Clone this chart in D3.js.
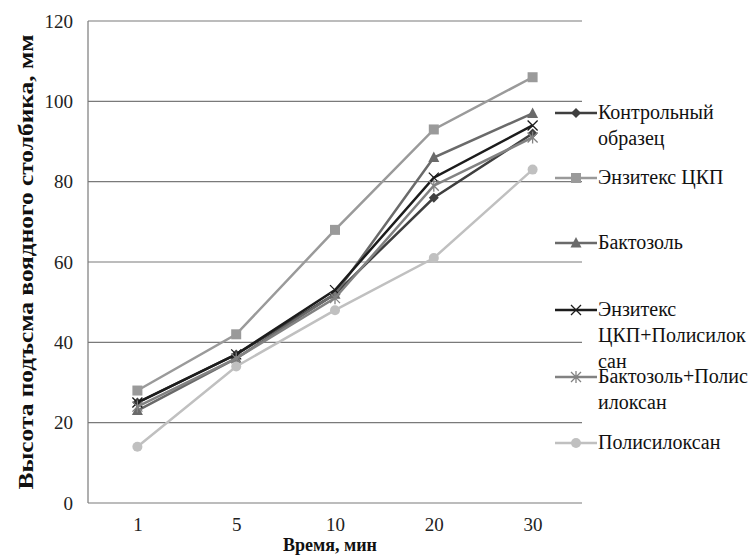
<!DOCTYPE html>
<html><head><meta charset="utf-8">
<script src="https://cdn.jsdelivr.net/npm/d3@7"></script>
<style>body{margin:0;background:#fff}svg{display:block}svg text{font-family:"Liberation Serif","Times New Roman",Tinos,"DejaVu Serif","Noto Serif",FreeSerif,Times,serif !important}</style>
</head><body>
<script>
const categories = ["1","5","10","20","30"];
const seriesNames = ["Контрольный образец","Энзитекс ЦКП","Бактозоль","Энзитекс ЦКП+Полисилоксан","Бактозоль+Полисилоксан","Полисилоксан"];
const control = [25,37,52,76,92];
const enzitex = [28,42,68,93,106];
const baktozol = [23,36,52,86,97];
const enzitexPoly = [25,37,53,81,94];
const baktozolPoly = [24,36,51,79,91];
const polysiloxane = [14,34,48,61,83];
const yTicks = [0,20,40,60,80,100,120];
const legendLines = [["Контрольный","образец"],["Энзитекс ЦКП"],["Бактозоль"],["Энзитекс","ЦКП+Полисилок","сан"],["Бактозоль+Полис","илоксан"],["Полисилоксан"]];
const yTitle = "Высота подъсма воядного столбика, мм";
const xTitle = "Время, мин";

const seriesValues = [control, enzitex, baktozol, enzitexPoly, baktozolPoly, polysiloxane];
const colors = ["#3f3f3f","#9a9a9a","#6a6a6a","#1c1c1c","#828282","#c0c0c0"];
const markers = ["diamond","square","triangle","x","star","circle"];

const W=749,H=555;
const svg=d3.select("body").append("svg").attr("width",W).attr("height",H);
const L=88,R=582,T=21,B=503;
const x=d3.scalePoint().domain(categories).range([L,R]).padding(0.5);
const y=d3.scaleLinear().domain([0,120]).range([B,T]);

svg.append("g").selectAll("line").data(yTicks.filter(d=>d>0)).join("line")
 .attr("x1",L).attr("x2",R).attr("y1",d=>y(d)).attr("y2",d=>y(d))
 .attr("stroke","#7a7a7a").attr("stroke-width",1.2);
svg.append("line").attr("x1",L).attr("x2",L).attr("y1",T).attr("y2",B).attr("stroke","#7a7a7a").attr("stroke-width",1.2);
svg.append("line").attr("x1",L).attr("x2",R).attr("y1",B).attr("y2",B).attr("stroke","#7a7a7a").attr("stroke-width",1.2);

const yAxis=d3.axisLeft(y).tickValues(yTicks).tickSize(0).tickPadding(15);
const gy=svg.append("g").attr("transform",`translate(${L},0)`).call(yAxis);
gy.select(".domain").remove();
gy.selectAll("text").attr("font-size",19).attr("fill","#222");
const xAxis=d3.axisBottom(x).tickSize(0).tickPadding(15);
const gx=svg.append("g").attr("transform",`translate(0,${B})`).call(xAxis);
gx.select(".domain").remove();
gx.selectAll("text").attr("font-size",19).attr("fill","#222");

svg.append("text").attr("transform",`translate(33,262) rotate(-90)`).attr("text-anchor","middle")
 .attr("font-size",22).attr("font-weight","bold").attr("fill","#111")
 .attr("textLength",455).attr("lengthAdjust","spacingAndGlyphs").text(yTitle);
svg.append("text").attr("x",330).attr("y",551).attr("text-anchor","middle")
 .attr("font-size",18).attr("font-weight","bold").attr("fill","#111").text(xTitle);

function drawMarker(g,type,color,cx,cy){
  const s=5;
  if(type==="diamond") g.append("path").attr("d",`M${cx},${cy-s}L${cx+s},${cy}L${cx},${cy+s}L${cx-s},${cy}Z`).attr("fill",color);
  else if(type==="square") g.append("rect").attr("x",cx-5).attr("y",cy-5).attr("width",10).attr("height",10).attr("fill",color);
  else if(type==="triangle") g.append("path").attr("d",`M${cx},${cy-6}L${cx+5.5},${cy+4.5}L${cx-5.5},${cy+4.5}Z`).attr("fill",color);
  else if(type==="circle") g.append("circle").attr("cx",cx).attr("cy",cy).attr("r",5).attr("fill",color);
  else if(type==="x"){
    g.append("path").attr("d",`M${cx-5},${cy-5}L${cx+5},${cy+5}M${cx-5},${cy+5}L${cx+5},${cy-5}`).attr("stroke",color).attr("stroke-width",1.3).attr("fill","none");
  } else if(type==="star"){
    g.append("path").attr("d",`M${cx-5},${cy-5}L${cx+5},${cy+5}M${cx-5},${cy+5}L${cx+5},${cy-5}M${cx},${cy-6}L${cx},${cy+6}`).attr("stroke",color).attr("stroke-width",1.3).attr("fill","none");
  }
}

const line=d3.line().x((d,i)=>x(categories[i])).y(d=>y(d));
seriesValues.forEach((vals,si)=>{
  const g=svg.append("g");
  g.append("path").attr("d",line(vals)).attr("fill","none").attr("stroke",colors[si]).attr("stroke-width",2.5);
  vals.forEach((v,i)=>drawMarker(g,markers[si],colors[si],x(categories[i]),y(v)));
});

const legY=[113,178,243,310,377,443];
const lg=svg.append("g");
legendLines.forEach((lines,si)=>{
  const cy=legY[si];
  lg.append("line").attr("x1",555).attr("x2",597).attr("y1",cy).attr("y2",cy).attr("stroke",colors[si]).attr("stroke-width",2.5);
  drawMarker(lg,markers[si],colors[si],576,cy);
  lines.forEach((t,k)=>{
    lg.append("text").attr("x",598).attr("y",cy+6+k*26).attr("font-size",20).attr("fill","#111").text(t);
  });
});
</script>
</body></html>
